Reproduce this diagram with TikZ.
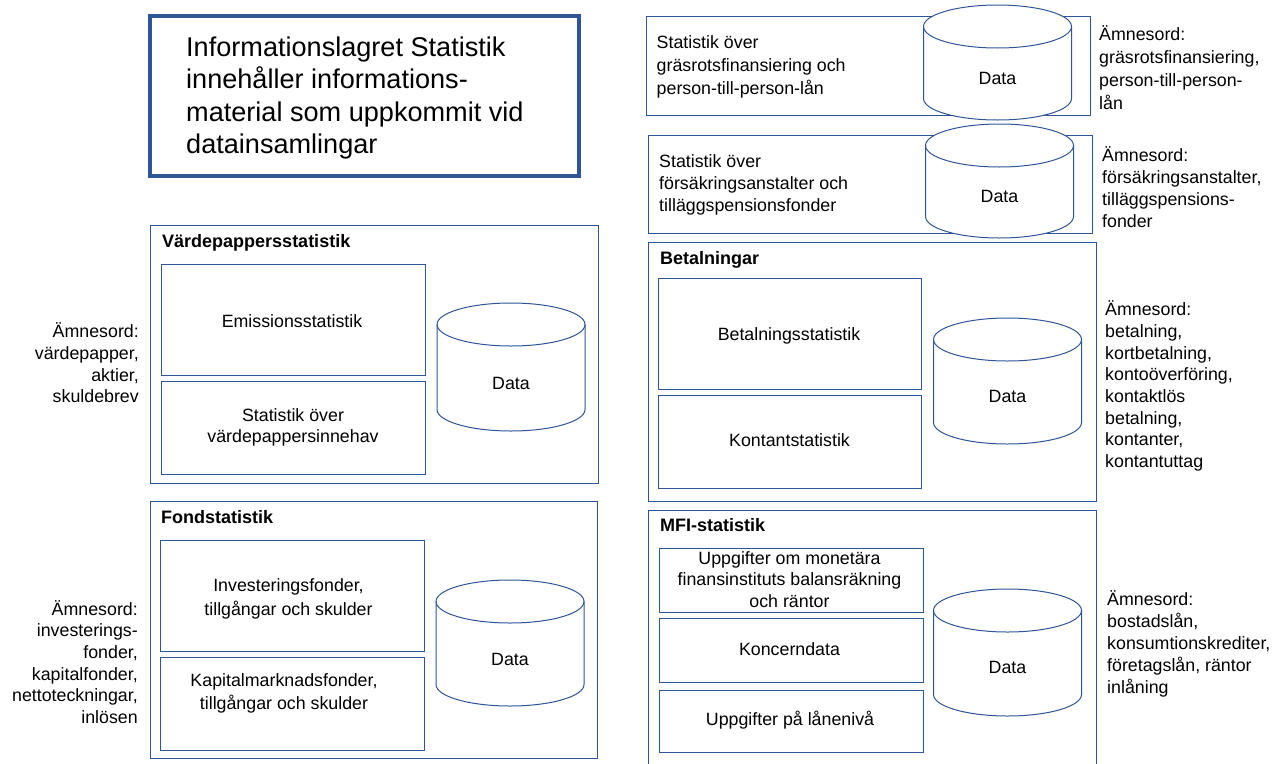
\documentclass[tikz,border=0pt]{standalone}
\usepackage{fontspec}
\setmainfont{Liberation Sans}
\definecolor{framecolor}{HTML}{2F5597}
\tikzset{
	frame/.style={draw=framecolor, line width=1pt, rectangle, fill=white, inner sep=0pt},
	titlebox/.style={draw=framecolor, line width=4.5pt, rectangle, inner sep=0pt},
	body/.style={font=\fontsize{17.8}{21.7}\selectfont, inner sep=0pt},
	wide/.style={font=\fontsize{17.8}{#1}\selectfont},
	heading/.style={font=\fontsize{18}{18}\selectfont\bfseries, inner sep=0pt, anchor=west},
	data/.style={draw=framecolor, line width=1pt, fill=white},
}
% drum: name, centre x, top y, bottom y, y of the text
\newcommand{\drum}[5]{
	\draw [data] (#2-74,#3+21.5) -- (#2-74,#4-21.5) arc (180:0:74 and 21.5) -- (#2+74,#3+21.5) arc (360:180:74 and 21.5) -- cycle;
	\draw [data, fill=none] (#2-74,#3+21.5) arc (180:0:74 and 21.5);
	\node [body] (#1) at (#2,#5) {Data};
}
\begin{document}
\begin{tikzpicture}[x=1pt, y=-1pt]
	\useasboundingbox (0,0) rectangle (1282,763);
	\clip (0,0) rectangle (1282,763);

	% title
	\node [titlebox, minimum width=429pt, minimum height=160pt] (head) at (364.5,96) {};
	\node [font=\fontsize{27.1}{32.6}\selectfont, align=left, anchor=west, inner sep=0pt] (headtext) at (186,98) {Informationslagret Statistik\\innehåller informations-\\material som uppkommit vid\\datainsamlingar};

	% left column
	\node [frame, minimum width=448pt, minimum height=258pt] (vp) at (374,354) {};
	\node [heading] (vptitle) at (162,242.5) {Värdepappersstatistik};
	\node [frame, minimum width=264pt, minimum height=111pt] (emission) at (293,319.5) {};
	\node [body] (emissiontext) at (292,321) {Emissionsstatistik};
	\node [frame, body, align=center, minimum width=264pt, minimum height=93pt] (innehav) at (293,427.5) {Statistik över\\värdepappersinnehav};
	\drum{vpdata}{511}{303}{431}{383}
	\node [body, align=right, anchor=east] (vpord) at (139,363) {Ämnesord:\\värdepapper,\\aktier,\\skuldebrev};

	\node [frame, minimum width=447pt, minimum height=257pt] (fond) at (373.5,629.5) {};
	\node [heading] (fondtitle) at (161,517) {Fondstatistik};
	\node [frame, minimum width=264pt, minimum height=111pt] (invest) at (292,595.5) {};
	\node [body, wide=23.5, align=center] (investtext) at (288.5,599) {Investeringsfonder,\\tillgångar och skulder};
	\node [frame, minimum width=264pt, minimum height=93pt] (kapital) at (292,703.5) {};
	\node [body, wide=23, align=center] (kapitaltext) at (284,693) {Kapitalmarknadsfonder,\\tillgångar och skulder};
	\drum{fonddata}{510}{580}{706}{659}
	\node [body, align=right, anchor=east] (fondord) at (138,662) {Ämnesord:\\investerings-\\fonder,\\kapitalfonder,\\nettoteckningar,\\inlösen};

	% right column
	\node [frame, minimum width=444pt, minimum height=99pt] (gras) at (868,65.5) {};
	\node [body, wide=23, align=left, anchor=west] (grastext) at (656.5,67) {Statistik över\\gräsrotsfinansiering och\\person-till-person-lån};
	\drum{grasdata}{997.5}{5}{120}{78}
	\node [body, wide=23, align=left, anchor=west] (grasord) at (1099,67.5) {Ämnesord:\\gräsrotsfinansiering,\\person-till-person-\\lån};

	\node [frame, minimum width=444pt, minimum height=98pt] (fors) at (870,184) {};
	\node [body, wide=22, align=left, anchor=west] (forstext) at (659,184.5) {Statistik över\\försäkringsanstalter och\\tilläggspensionsfonder};
	\drum{forsdata}{999.5}{124}{238}{196}
	\node [body, wide=22, align=left, anchor=west] (forsord) at (1102,187) {Ämnesord:\\försäkringsanstalter,\\tilläggspensions-\\fonder};

	\node [frame, minimum width=448pt, minimum height=259pt] (bet) at (872,371.5) {};
	\node [heading] (bettitle) at (660,259.5) {Betalningar};
	\node [frame, minimum width=263pt, minimum height=111pt] (betstat) at (789.5,333.5) {};
	\node [body] (betstattext) at (789,336) {Betalningsstatistik};
	\node [frame, minimum width=263pt, minimum height=93pt] (kontant) at (789.5,441.5) {};
	\node [body] (kontanttext) at (789.5,440.5) {Kontantstatistik};
	\drum{betdata}{1007.5}{318}{444}{396}
	\node [body, align=left, anchor=west] (betord) at (1105,386) {Ämnesord:\\betalning,\\kortbetalning,\\kontoöverföring,\\kontaktlös\\betalning,\\kontanter,\\kontantuttag};

	\node [frame, minimum width=448pt, minimum height=270pt] (mfi) at (872,645) {};
	\node [heading] (mfititle) at (660,525) {MFI-statistik};
	\node [frame, minimum width=264pt, minimum height=64pt] (monetar) at (791,580) {};
	\node [body, align=center] (monetartext) at (789.5,579.5) {Uppgifter om monetära\\finansinstituts balansräkning\\och räntor};
	\node [frame, minimum width=264pt, minimum height=64pt] (koncern) at (791,650) {};
	\node [body] (koncerntext) at (789.5,649) {Koncerndata};
	\node [frame, minimum width=264pt, minimum height=62pt] (lanniva) at (791,721) {};
	\node [body] (lannivatext) at (790,720) {Uppgifter på lånenivå};
	\drum{mfidata}{1007.5}{589}{716}{667}
	\node [body, wide=22, align=left, anchor=west] (mfiord) at (1107,644) {Ämnesord:\\bostadslån,\\konsumtionskrediter,\\företagslån, räntor\\inlåning};
\end{tikzpicture}
\end{document}
